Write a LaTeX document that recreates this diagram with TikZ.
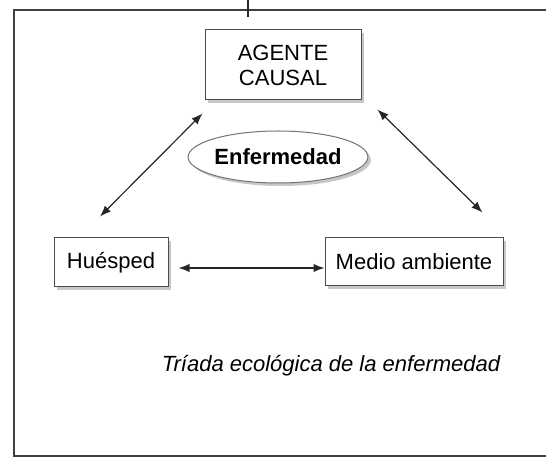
\documentclass[tikz,border=0pt]{standalone}
\usepackage{fontspec}
\setmainfont{Liberation Sans}
\usetikzlibrary{arrows.meta,calc}
\usetikzlibrary{shadows,shapes.geometric}
\tikzset{>={Latex[length=5.5pt,width=4.2pt]}}
\tikzstyle{caja} = [draw=black!70, line width=0.5pt, fill=white,
    drop shadow={shadow xshift=1.5pt, shadow yshift=-1.5pt, fill=black!22, opacity=1},
    align=center, inner sep=0pt]
\tikzstyle{flecha} = [<->, draw=black!85, line width=0.6pt]

\begin{document}
\begin{tikzpicture}[x=0.5pt,y=-0.5pt,font=\fontsize{11}{12.5}\selectfont]
    \clip (0,0) rectangle (546,458);
    %frame
    \draw[black!75, line width=0.9pt] (14,10) rectangle (560,456);
    \draw[black!85, line width=0.6pt] (248,0) -- (248,17);
    %the three boxes
    \node[caja, minimum width=78pt, minimum height=35pt] (agente) at (283,65) {AGENTE\\CAUSAL};
    \node[caja, minimum width=57pt, minimum height=24.5pt] (huesped) at (111,262.5) {Huésped};
    \node[caja, minimum width=89pt, minimum height=24pt] (medio) at (414,262) {Medio ambiente};
    %center
    \node[caja, ellipse, draw=black!55, minimum width=84.5pt, minimum height=26pt] (enf) at (278,157) {\bfseries Enfermedad};
    %arrows
    \draw[flecha] ($(agente.south west)+(-2,13)$) -- ($(huesped.north)+(-11,-21)$);
    \draw[flecha] ($(agente.south east)+(16,9)$) -- ($(medio.north east)+(-21,-25)$);
    \draw[flecha] ($(huesped.east)+(10,5.5)$) -- ($(medio.west)+(0,6)$);
    \node (titulo) at (331,366) {\itshape Tríada ecológica de la enfermedad};
\end{tikzpicture}
\end{document}
